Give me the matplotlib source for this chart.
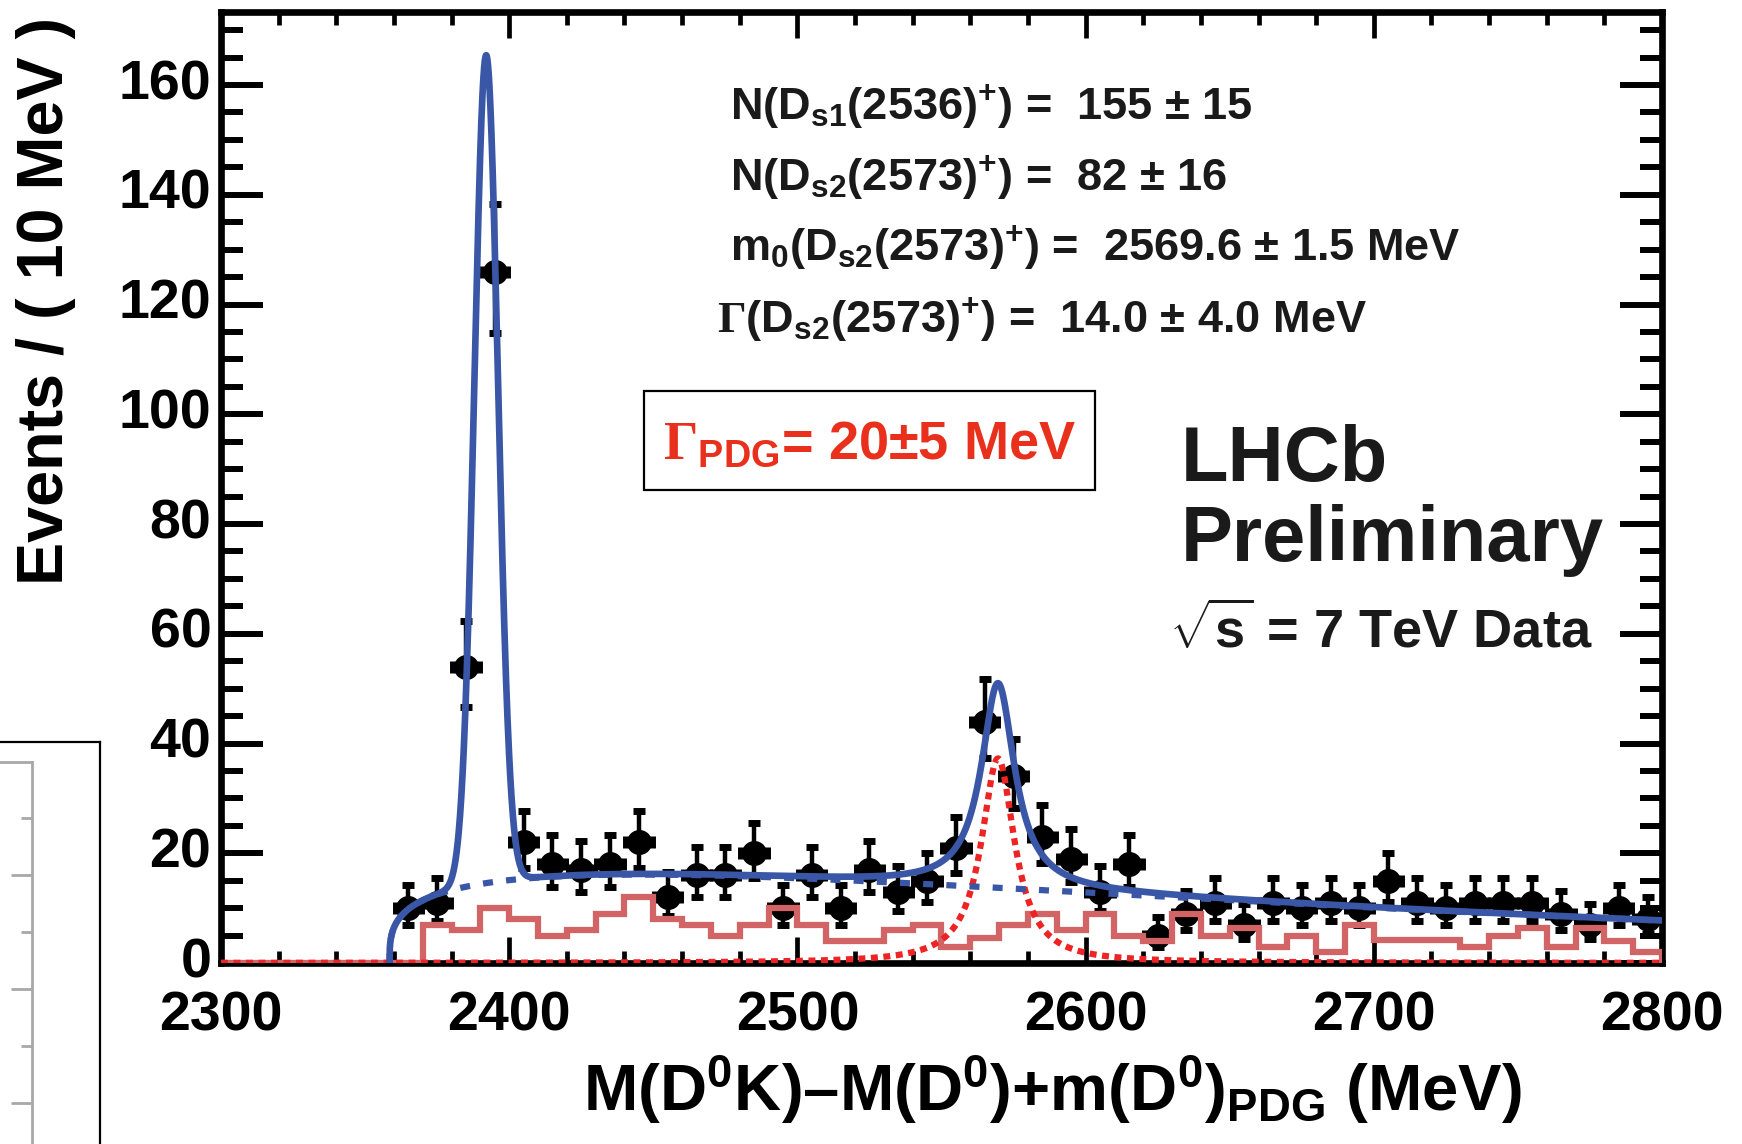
import math
import numpy as np
import matplotlib
matplotlib.use("Agg")
import matplotlib.pyplot as plt
from matplotlib.ticker import MultipleLocator, FixedLocator, NullFormatter
from matplotlib.patches import Rectangle

plt.rcParams["font.family"] = ["Liberation Sans", "DejaVu Sans"]
plt.rcParams["font.weight"] = "bold"
plt.rcParams["mathtext.fontset"] = "custom"
plt.rcParams["mathtext.rm"] = "Liberation Sans:bold"
plt.rcParams["mathtext.it"] = "Liberation Sans:bold"
plt.rcParams["mathtext.bf"] = "Liberation Sans:bold"
plt.rcParams["mathtext.sf"] = "Liberation Serif"
plt.rcParams["lines.scale_dashes"] = False

# ---------------- data ----------------
BIN_WIDTH = 10.0
mass_centers = np.arange(2365, 2800, 10)          # MeV, centres of filled bins
event_counts = [10, 11, 54, 126, 22, 18, 17, 18, 22, 12,
                16, 16, 20, 10, 16, 10, 17, 13, 15, 21,
                44, 34, 23, 19, 13, 18, 5, 9, 11, 7,
                11, 10, 11, 10, 15, 11, 10, 11, 11, 11,
                9, 7, 10, 8]

# wrong-sign combinations, 10 MeV bins from 2300 to 2800
ws_edges = np.arange(2300, 2801, 10)
ws_counts = [0, 0, 0, 0, 0, 0, 0,
             7, 6, 10, 8, 5, 6, 9, 12, 8, 7,
             5, 7, 10, 7, 4, 4, 6, 7, 3, 4.5,
             7, 9, 6, 9, 5, 4, 9, 5, 6.3, 3,
             5, 2, 7, 4.2, 4.2, 4.2, 3, 5, 6.3, 3,
             6.3, 4, 2]

# fit results
THRESHOLD = 2358.5                 # m(D0) + m(K)
BKG_NORM, BKG_POWER, BKG_SLOPE = 5.70, 0.30, 0.00345
DS1_YIELD, DS1_MEAN, DS1_SIGMA = 155.0, 2392.0, 4.1
DS2_YIELD, DS2_MASS, DS2_WIDTH = 82.0, 2569.6, 14.0


def background(m):
    d = np.clip(m - THRESHOLD, 0.0, None)
    return BKG_NORM * d ** BKG_POWER * np.exp(-BKG_SLOPE * d)


def ds1_shape(m):
    amp = DS1_YIELD * BIN_WIDTH / (DS1_SIGMA * math.sqrt(2 * math.pi))
    return amp * np.exp(-0.5 * ((m - DS1_MEAN) / DS1_SIGMA) ** 2)


def ds2_shape(m):
    hw = DS2_WIDTH / 2.0
    return DS2_YIELD * BIN_WIDTH / math.pi * hw / ((m - DS2_MASS) ** 2 + hw ** 2)


def poisson_interval(n, cl=0.6827):
    """Garwood central interval for an observed count n."""
    a = (1.0 - cl) / 2.0

    def cdf(k, mu):
        term = math.exp(-mu)
        s = term
        for i in range(1, k + 1):
            term *= mu / i
            s += term
        return s

    lo_a, hi_a = float(n), float(n) + 10 * math.sqrt(n + 1) + 10
    for _ in range(80):
        mid = 0.5 * (lo_a + hi_a)
        if cdf(n, mid) > a:
            lo_a = mid
        else:
            hi_a = mid
    upper = 0.5 * (lo_a + hi_a)
    if n == 0:
        return 0.0, upper
    lo_b, hi_b = 0.0, float(n)
    for _ in range(80):
        mid = 0.5 * (lo_b + hi_b)
        if cdf(n - 1, mid) > 1.0 - a:
            lo_b = mid
        else:
            hi_b = mid
    lower = 0.5 * (lo_b + hi_b)
    return lower, upper


err_lo, err_hi = [], []
for n in event_counts:
    lo, hi = poisson_interval(n)
    err_lo.append(n - lo)
    err_hi.append(hi - n)

# ---------------- figure ----------------
W, H = 1742, 1144
fig = plt.figure(figsize=(W / 100, H / 100), dpi=100)


def fx(px):
    return px / W


def fy(py):
    return 1.0 - py / H


ax = fig.add_axes([fx(221), fy(963), fx(1662) - fx(221), fy(11.5) - fy(963)])

BLUE = "#3a56a6"
HIST_RED = "#d36466"
SIG_RED = "#ee2424"

ax.errorbar(mass_centers, event_counts, yerr=[err_lo, err_hi], xerr=4.4,
            fmt="o", ms=17, color="black", ecolor="black", elinewidth=3.2,
            capsize=4.3, capthick=5.0, zorder=3)

ax.stairs(ws_counts, ws_edges, color=HIST_RED, lw=4.5, zorder=4)

m_all = np.linspace(2300, 2800, 4000)
m_thr = np.linspace(THRESHOLD, 2800, 6000)
ax.plot(m_all, ds2_shape(m_all), color=SIG_RED, lw=4.5,
        linestyle=(0, (5.0, 4.0)), zorder=5)
ax.plot(m_thr, background(m_thr), color=BLUE, lw=4.5,
        linestyle=(0, (7.2, 9.5)), zorder=5)
ax.plot(m_thr, background(m_thr) + ds1_shape(m_thr) + ds2_shape(m_thr),
        color=BLUE, lw=4.8, zorder=6)

ax.set_xlim(2300, 2800)
ax.set_ylim(0, 173.4)
ax.xaxis.set_major_locator(MultipleLocator(100))
ax.xaxis.set_minor_locator(MultipleLocator(20))
ax.yaxis.set_major_locator(MultipleLocator(20))
ax.yaxis.set_minor_locator(MultipleLocator(5))
for s in ax.spines.values():
    s.set_linewidth(4.8)
ax.tick_params(axis="both", which="both", direction="in", top=True, right=True,
               labelsize=40)
ax.tick_params(axis="y", which="major", length=30, width=4.3, pad=7)
ax.tick_params(axis="y", which="minor", length=15.5, width=4.3)
ax.tick_params(axis="x", which="major", length=19, width=3.4, pad=20)
ax.tick_params(axis="x", which="minor", length=9, width=3.4)
for lab in ax.get_xticklabels() + ax.get_yticklabels():
    lab.set_fontweight("bold")
for lab in ax.get_yticklabels():
    lab.set_verticalalignment("center")

# axis titles
fig.text(fx(46), fy(17), "Events / ( 10 MeV )", rotation=90, ha="center",
         va="top", fontsize=46.5, fontweight="bold")
fig.text(fx(583), fy(1111),
         r"M(D$^{0}$K)–M(D$^{0}$)+m(D$^{0}$)$_{\mathrm{PDG}}$ (MeV)",
         ha="left", va="baseline", fontsize=47, fontweight="bold")

# fit summary
fit_lines = [
    (730, 120, r"N(D$_{\mathrm{s1}}$(2536)$^{+}$) =  155 ± 15"),
    (730, 191, r"N(D$_{\mathrm{s2}}$(2573)$^{+}$) =  82 ± 16"),
    (730, 261, r"m$_{0}$(D$_{\mathrm{s2}}$(2573)$^{+}$) =  2569.6 ± 1.5 MeV"),
    (717, 333, r"$\mathsf{\Gamma}$(D$_{\mathrm{s2}}$(2573)$^{+}$) =  14.0 ± 4.0 MeV"),
]
for px, py, txt in fit_lines:
    fig.text(fx(px), fy(py), txt, ha="left", va="baseline", fontsize=32.5,
             fontweight="bold", color="#1a1a1a")

# PDG width box
fig.add_artist(Rectangle((fx(644), fy(490)), fx(1095) - fx(644), fy(391) - fy(490),
                         transform=fig.transFigure, fill=False, ec="black", lw=1.6))
fig.text(fx(663), fy(459), r"$\mathsf{\Gamma}_{\mathbf{PDG}}$= 20±5 MeV",
         ha="left", va="baseline", fontsize=39, fontweight="bold",
         color="#e8301c")

fig.text(fx(1181), fy(481), "LHCb", ha="left", va="baseline", fontsize=56,
         fontweight="bold", color="#1a1a1a")
fig.text(fx(1181), fy(561), "Preliminary", ha="left", va="baseline", fontsize=56,
         fontweight="bold", color="#1a1a1a")
fig.text(fx(1169), fy(648), r"$\sqrt{s}$ = 7 TeV Data", ha="left", va="baseline",
         fontsize=39, fontweight="bold", color="#1a1a1a")

# neighbouring panel edge at the lower left
ax_frame = fig.add_axes([fx(-60), fy(1200), fx(100) - fx(-60), fy(741.7) - fy(1200)])
ax_frame.set_facecolor("none")
ax_frame.set_xticks([])
ax_frame.set_yticks([])
for k in ("left", "bottom"):
    ax_frame.spines[k].set_visible(False)
for k in ("top", "right"):
    ax_frame.spines[k].set_linewidth(1.6)

ax_gray = fig.add_axes([fx(-60), fy(1200), fx(32.3) - fx(-60), fy(761.7) - fy(1200)])
ax_gray.set_facecolor("none")
ax_gray.set_ylim(1200, 761.7)
ax_gray.set_xticks([])
ax_gray.yaxis.tick_right()
ax_gray.yaxis.set_major_locator(FixedLocator([875, 989, 1103]))
ax_gray.yaxis.set_minor_locator(FixedLocator([818, 932, 1046]))
ax_gray.yaxis.set_major_formatter(NullFormatter())
ax_gray.tick_params(axis="y", which="major", direction="in", length=15, width=2,
                    color="#a8a8a8")
ax_gray.tick_params(axis="y", which="minor", direction="in", length=8, width=2,
                    color="#a8a8a8")
for k in ("left", "bottom"):
    ax_gray.spines[k].set_visible(False)
for k in ("top", "right"):
    ax_gray.spines[k].set_linewidth(2)
    ax_gray.spines[k].set_color("#a8a8a8")

fig.savefig("out.png", dpi=100)
